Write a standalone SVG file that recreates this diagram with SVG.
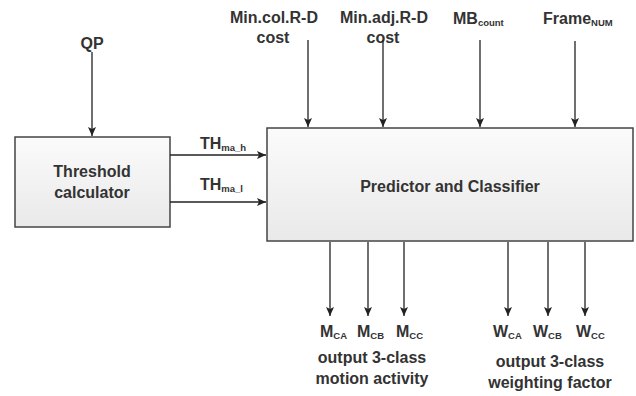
<svg xmlns="http://www.w3.org/2000/svg" width="636" height="396" viewBox="0 0 636 396">
<style>
text{font-family:"Liberation Sans",Arial,sans-serif;font-weight:bold;fill:#333;font-size:16px}
.sub{font-size:9.5px}
.box{fill:url(#g);stroke:#444;stroke-width:1.5}
.c{stroke:#222;stroke-width:1.3;fill:none;marker-end:url(#a)}
</style>
<defs>
<linearGradient id="g" x1="0" y1="0" x2="0" y2="1"><stop offset="0" stop-color="#fbfbfb"/><stop offset="1" stop-color="#e9e9e9"/></linearGradient>
<marker id="a" markerWidth="10" markerHeight="10" refX="9" refY="5" orient="auto" markerUnits="userSpaceOnUse"><path d="M0,1 L9,5 L0,9 L2,5 Z" fill="#222"/></marker>
</defs>
<rect width="636" height="396" fill="#fff"/>
<g id="threshold">
<rect class="box" x="15" y="137" width="155" height="90"/>
<text x="92" y="177" text-anchor="middle">Threshold</text>
<text x="92" y="198" text-anchor="middle">calculator</text>
</g>
<g id="predictor">
<rect class="box" x="267" y="128" width="366" height="113"/>
<text x="450" y="192" text-anchor="middle">Predictor and Classifier</text>
</g>
<g id="labels">
<text x="92" y="49" text-anchor="middle">QP</text>
<text x="200" y="149">TH<tspan class="sub" dy="2">ma_h</tspan></text>
<text x="200" y="190">TH<tspan class="sub" dy="2">ma_l</tspan></text>
<text x="274" y="23" text-anchor="middle">Min.col.R-D</text>
<text x="273" y="43" text-anchor="middle">cost</text>
<text x="384" y="23" text-anchor="middle">Min.adj.R-D</text>
<text x="383" y="43" text-anchor="middle">cost</text>
<text x="453" y="24">MB<tspan class="sub" dy="2">count</tspan></text>
<text x="543" y="24">Frame<tspan class="sub" dy="2">NUM</tspan></text>
<text x="320" y="337">M<tspan class="sub" dy="2">CA</tspan></text>
<text x="357" y="337">M<tspan class="sub" dy="2">CB</tspan></text>
<text x="396" y="337">M<tspan class="sub" dy="2">CC</tspan></text>
<text x="493" y="337">W<tspan class="sub" dy="2">CA</tspan></text>
<text x="533" y="337">W<tspan class="sub" dy="2">CB</tspan></text>
<text x="576" y="337">W<tspan class="sub" dy="2">CC</tspan></text>
<text x="372" y="363" text-anchor="middle">output 3-class</text>
<text x="372" y="384" text-anchor="middle">motion activity</text>
<text x="550" y="367" text-anchor="middle">output 3-class</text>
<text x="550" y="388" text-anchor="middle">weighting factor</text>
</g>
<g id="connectors">
<line class="c" x1="92" y1="52" x2="92" y2="136"/>
<line class="c" x1="170" y1="155" x2="266" y2="155"/>
<line class="c" x1="170" y1="202" x2="266" y2="202"/>
<line class="c" x1="308" y1="40" x2="308" y2="127"/>
<line class="c" x1="383" y1="40" x2="383" y2="127"/>
<line class="c" x1="480" y1="40" x2="480" y2="127"/>
<line class="c" x1="575" y1="41" x2="575" y2="127"/>
<line class="c" x1="330" y1="242" x2="330" y2="316"/>
<line class="c" x1="368" y1="242" x2="368" y2="316"/>
<line class="c" x1="404" y1="242" x2="404" y2="316"/>
<line class="c" x1="508" y1="242" x2="508" y2="316"/>
<line class="c" x1="548" y1="242" x2="548" y2="316"/>
<line class="c" x1="585" y1="242" x2="585" y2="316"/>
</g>
</svg>
